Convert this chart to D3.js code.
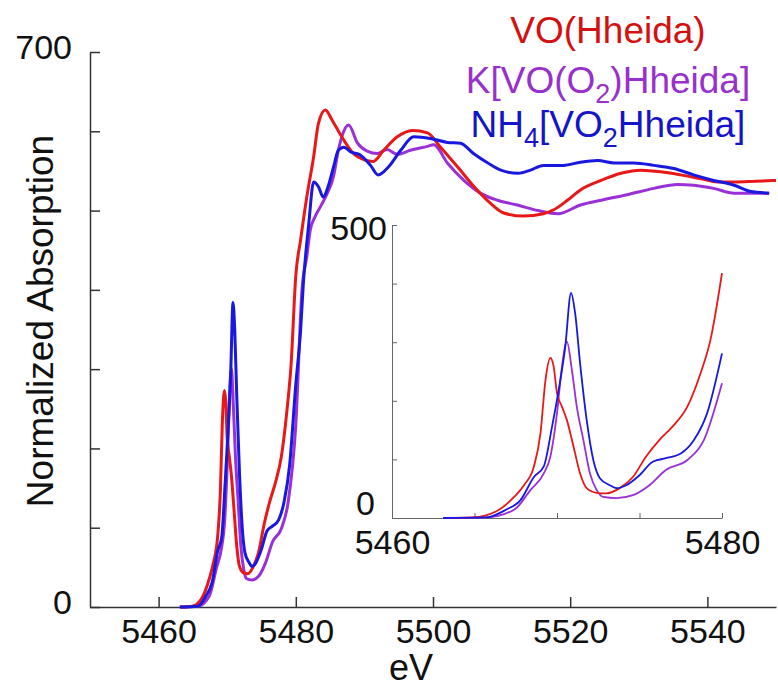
<!DOCTYPE html>
<meta charset="utf-8">

<!-- LOAD d3.js -->
<script src="https://d3js.org/d3.v7.min.js"></script>

<div id="xanes"></div>
<style>
body{margin:0;background:#fff;}
text{font-family:"Liberation Sans", Arial, sans-serif;}
.axis path, .axis line{stroke:#333;}
.inset path, .inset line{stroke:#666;}
</style>

<script>
  // series names, "_" marks a subscript character
  var seriesNames = ["VO(Hheida)", "K[VO(O_2)Hheida]", "NH_4[VO_2Hheida]"];
  var lineColors = ["#e81818", "#9a30d8", "#1818e0"];
  var textColors = ["#d41010", "#9a30cc", "#1414c8"];

  // [eV, normalized absorption]
  var voHheida = [[5463.1,0],[5464.9,1],[5466.3,11],[5467.4,36],[5468.0,56],[5468.6,88],[5469.0,145],[5469.3,235],[5469.6,273],[5469.8,258],[5470.0,213],[5470.3,190],[5470.6,167],[5471.0,122],[5471.4,76],[5471.8,51],[5472.4,43],[5473.0,42],[5473.8,51],[5474.6,70],[5475.4,105],[5476.2,133],[5477.0,156],[5477.9,190],[5478.7,247],[5479.3,304],[5480.0,418],[5480.7,463],[5481.6,517],[5482.6,568],[5483.3,610],[5484.3,627],[5485.3,614],[5486.5,596],[5488.4,572],[5490.0,564],[5491.3,562],[5492.8,576],[5494.8,593],[5497.0,601],[5499.2,598],[5501.1,580],[5503.6,555],[5506.0,530],[5508.4,509],[5510.3,497],[5513.2,493],[5516.1,496],[5517.6,501],[5519.6,513],[5521.5,526],[5524.5,538],[5527.4,547],[5530.3,551],[5533.2,549],[5536.1,545],[5539.1,540],[5541.5,536],[5543.9,536],[5547.0,537],[5550.0,538]];

  var kPeroxo = [[5463.1,0],[5465.7,1],[5467.4,14],[5468.4,48],[5469.2,76],[5469.6,105],[5470.0,179],[5470.3,258],[5470.6,301],[5470.9,253],[5471.2,190],[5471.6,133],[5472.0,76],[5472.4,48],[5472.8,36],[5473.6,34],[5474.6,39],[5475.6,56],[5476.6,82],[5477.9,99],[5478.9,133],[5480.0,230],[5480.9,400],[5481.6,442],[5482.1,475],[5482.8,492],[5483.6,505],[5484.6,522],[5485.5,543],[5486.2,576],[5486.7,593],[5487.7,608],[5489.0,585],[5490.4,575],[5491.9,572],[5493.3,577],[5494.8,571],[5496.7,576],[5499.2,581],[5500.1,583],[5502.1,560],[5504.5,538],[5506.9,522],[5509.4,513],[5512.3,507],[5515.3,500],[5518.2,496],[5521.5,507],[5524.5,513],[5528.3,520],[5532.2,528],[5535.6,533],[5538.0,532],[5540.9,528],[5543.9,522],[5546.8,522],[5549.0,522]];

  var nh4Dioxo = [[5463.1,0],[5465.7,1],[5466.9,14],[5467.8,31],[5468.6,70],[5469.2,88],[5469.7,156],[5470.1,218],[5470.5,292],[5470.85,384],[5471.1,349],[5471.4,264],[5471.8,167],[5472.2,99],[5472.6,68],[5473.2,56],[5473.6,51],[5474.2,56],[5475.0,73],[5475.8,96],[5476.6,102],[5477.5,110],[5478.3,133],[5479.1,179],[5480.0,281],[5480.7,349],[5481.1,408],[5481.9,484],[5482.6,536],[5483.3,530],[5484.0,517],[5484.7,530],[5485.5,555],[5486.2,576],[5487.0,580],[5488.0,574],[5489.4,570],[5490.9,557],[5492.0,545],[5493.5,555],[5495.3,576],[5497.2,593],[5499.6,591],[5502.1,586],[5504.0,585],[5505.9,572],[5508.0,560],[5509.9,551],[5512.4,547],[5514.2,551],[5516.1,557],[5519.0,557],[5521.5,561],[5524.0,563],[5526.4,560],[5529.3,560],[5532.2,557],[5535.1,553],[5538.0,545],[5540.9,538],[5543.9,532],[5546.4,524],[5549.0,522]];

  // tick values
  var mainXTicks = [5460, 5480, 5500, 5520, 5540];
  var mainYTicks = [0, 100, 200, 300, 400, 500, 600, 700];
  var mainYLabels = [0, 700];
  var insetXTicks = [5460, 5465, 5470, 5475, 5480];
  var insetXLabels = [5460, 5480];
  var insetYTicks = [0, 100, 200, 300, 400, 500];
  var insetYLabels = [0, 500];

  // draw order: purple, red, blue
  var series = [
    {data: kPeroxo, color: lineColors[1]},
    {data: voHheida, color: lineColors[0]},
    {data: nh4Dioxo, color: lineColors[2]}
  ];

  var width = 778, height = 687;

  var svg = d3.select("#xanes")
    .append("svg")
      .attr("width", width)
      .attr("height", height);

  svg.append("rect").attr("width", width).attr("height", height).attr("fill", "#fff");

  // main scales
  var x = d3.scaleLinear().domain([5450, 5550]).range([90, 776]);
  var y = d3.scaleLinear().domain([0, 700]).range([607, 52]);

  // inset scales
  var xi = d3.scaleLinear().domain([5460, 5480]).range([392, 722]);
  var yi = d3.scaleLinear().domain([0, 500]).range([518, 225]);

  //main x axis
  var gx = svg.append("g")
    .attr("class", "axis")
    .attr("transform", "translate(0," + y(0) + ")")
    .call(d3.axisBottom(x).tickValues(mainXTicks).tickSize(-10).tickSizeOuter(0).tickPadding(12)
      .tickFormat(d3.format("d")));
  gx.select(".domain").attr("stroke-width", 1.5);
  gx.selectAll("line").attr("stroke-width", 1.5);
  gx.selectAll("text").style("font-size", "34px").attr("fill", "#111");

  //main y axis
  var gy = svg.append("g")
    .attr("class", "axis")
    .attr("transform", "translate(" + x(5450) + ",0)")
    .call(d3.axisLeft(y).tickValues(mainYTicks).tickSize(-10).tickSizeOuter(0).tickPadding(18)
      .tickFormat(function(d){ return mainYLabels.indexOf(d) >= 0 ? d : ""; }));
  gy.select(".domain").attr("stroke-width", 1.5);
  gy.selectAll("line").attr("stroke-width", 1.5);
  gy.selectAll("text").style("font-size", "34px").attr("fill", "#111").attr("dy", "0.2em");

  // axis titles
  svg.append("text")
    .attr("transform", "translate(53,321) rotate(-90)")
    .attr("text-anchor", "middle")
    .style("font-size", "37px")
    .attr("fill", "#111")
    .text("Normalized Absorption");

  svg.append("text")
    .attr("x", 411)
    .attr("y", 680)
    .attr("text-anchor", "middle")
    .style("font-size", "36px")
    .attr("fill", "#111")
    .text("eV");

  // main lines
  var line = d3.line()
    .x(function(d){ return x(d[0]); })
    .y(function(d){ return y(d[1]); })
    .curve(d3.curveMonotoneX);

  svg.append("g")
    .selectAll("path")
    .data(series)
    .enter()
    .append("path")
      .attr("d", function(d){ return line(d.data); })
      .attr("fill", "none")
      .attr("stroke", function(d){ return d.color; })
      .attr("stroke-width", 3)
      .attr("stroke-linejoin", "round");

  // inset axes
  var gix = svg.append("g")
    .attr("class", "inset")
    .attr("transform", "translate(0," + yi(0) + ")")
    .call(d3.axisBottom(xi).tickValues(insetXTicks).tickSize(-5).tickSizeOuter(0).tickPadding(12)
      .tickFormat(function(d){ return insetXLabels.indexOf(d) >= 0 ? d : ""; }));
  gix.selectAll("text").style("font-size", "34px").attr("fill", "#111");

  var giy = svg.append("g")
    .attr("class", "inset")
    .attr("transform", "translate(" + xi(5460) + ",0)")
    .call(d3.axisLeft(yi).tickValues(insetYTicks).tickSize(-5).tickSizeOuter(0).tickPadding(5)
      .tickFormat(function(d){ return insetYLabels.indexOf(d) >= 0 ? d : ""; }));
  giy.selectAll("text")
    .style("font-size", "34px")
    .attr("fill", "#111")
    .attr("x", function(d){ return d == 0 ? -17 : -5; })
    .attr("dy", function(d){ return d == 0 ? "-0.1em" : "0.43em"; });

  var lineInset = d3.line()
    .x(function(d){ return xi(d[0]); })
    .y(function(d){ return yi(d[1]); })
    .curve(d3.curveMonotoneX);

  svg.append("g")
    .selectAll("path")
    .data(series)
    .enter()
    .append("path")
      .attr("d", function(d){ return lineInset(d.data.filter(function(p){ return p[0] <= 5480; })); })
      .attr("fill", "none")
      .attr("stroke", function(d){ return d.color; })
      .attr("stroke-width", 1.8)
      .attr("stroke-linejoin", "round");

  // legend with subscripts
  var baselines = [43, 93, 137];
  seriesNames.forEach(function(name, i){
    var t = svg.append("text")
      .attr("x", 608)
      .attr("y", baselines[i])
      .attr("text-anchor", "middle")
      .style("font-size", "37px")
      .attr("fill", textColors[i]);
    var parts = name.split(/(_.)/);
    var shift = 0;
    parts.forEach(function(p){
      if (p === "") return;
      if (p[0] === "_") {
        t.append("tspan").attr("dy", 10 - shift).style("font-size", "27px").text(p[1]);
        shift = 10;
      } else {
        t.append("tspan").attr("dy", -shift).text(p);
        shift = 0;
      }
    });
  });
</script>
